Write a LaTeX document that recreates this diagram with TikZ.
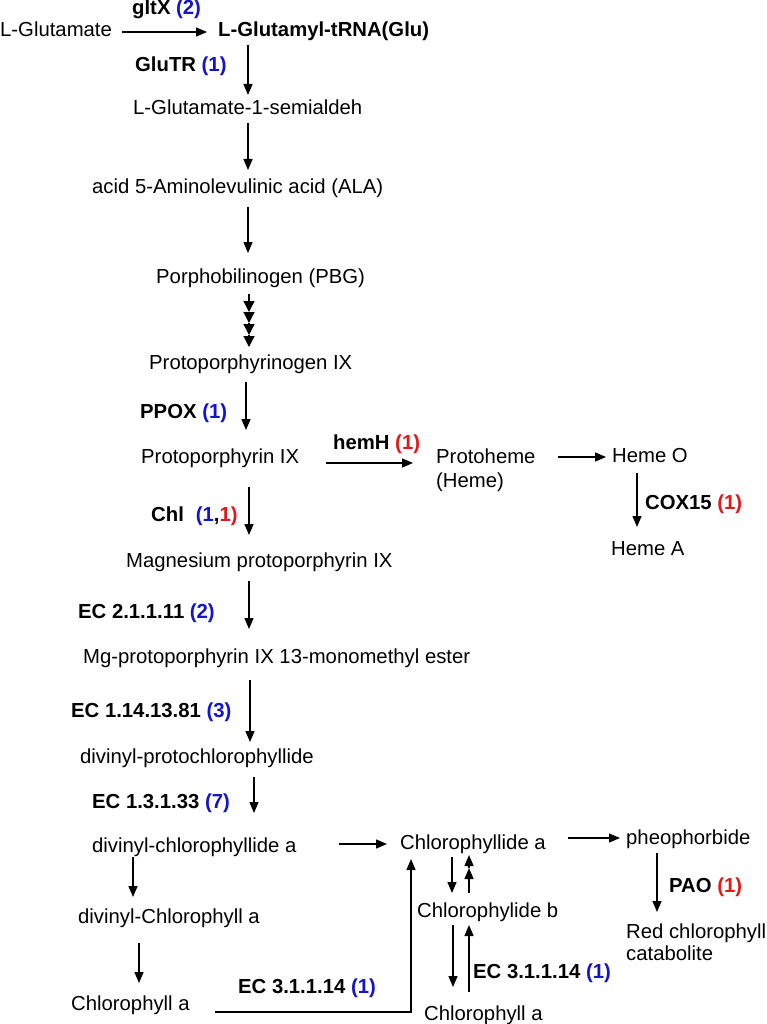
\documentclass[tikz,border=0pt]{standalone}
\usepackage{fontspec}
\setmainfont{Liberation Sans}
\usetikzlibrary{arrows.meta}
\definecolor{nblue}{RGB}{20,20,200}
\definecolor{nred}{RGB}{225,25,25}
\tikzset{
  txt/.style={anchor=base west, inner sep=0pt, font=\fontsize{20.3}{24}\selectfont},
  lbl/.style={anchor=base west, inner sep=0pt, font=\fontsize{20.3}{24}\selectfont\bfseries},
  arr/.style={line width=1.3pt, -{Triangle[length=11pt,width=9pt]}},
  marr/.style={line width=1.3pt, -{Triangle[length=11pt,width=11pt]}}
}
\newcommand{\bn}[1]{\textcolor{nblue}{#1}}
\newcommand{\rn}[1]{\textcolor{nred}{#1}}
\begin{document}
\begin{tikzpicture}[x=1pt,y=-1pt]
\useasboundingbox[fill=white] (0,0) rectangle (766,1024);
% texts
\node[txt] (glu) at (0,37) {L-Glutamate};
\node[lbl] (gltx) at (132,15) {gltX \bn{(2)}};
\node[lbl] (gtrna) at (218,37) {L-Glutamyl-tRNA(Glu)};
\node[lbl] (glutr) at (135,72) {GluTR \bn{(1)}};
\node[txt] (gsa) at (133,115) {L-Glutamate-1-semialdeh};
\node[txt] (ala) at (92,194) {acid 5-Aminolevulinic acid (ALA)};
\node[txt] (pbg) at (156,283) {Porphobilinogen (PBG)};
\node[txt] (pgen) at (149,369) {Protoporphyrinogen IX};
\node[lbl] (ppox) at (140,418) {PPOX \bn{(1)}};
\node[txt] (pp9) at (141,463) {Protoporphyrin IX};
\node[lbl] (hemh) at (333,449) {hemH \rn{(1)}};
\node[txt] (proto) at (436,463) {Protoheme};
\node[txt] (heme) at (436,487) {(Heme)};
\node[txt] (hemeo) at (612,462) {Heme O};
\node[lbl] (cox) at (645,509) {COX15 \rn{(1)}};
\node[txt] (hemea) at (611,555) {Heme A};
\node[lbl] (chl) at (151,521) {Chl\hspace{12pt}\bn{(1},\rn{1)}};
\node[txt] (mgp) at (126,567) {Magnesium protoporphyrin IX};
\node[lbl] (ec2) at (78,618) {EC 2.1.1.11 \bn{(2)}};
\node[txt] (mgme) at (83,663) {Mg-protoporphyrin IX 13-monomethyl ester};
\node[lbl] (ec1) at (71,717) {EC 1.14.13.81 \bn{(3)}};
\node[txt] (dvp) at (80,763) {divinyl-protochlorophyllide};
\node[lbl] (ec13) at (92,808) {EC 1.3.1.33 \bn{(7)}};
\node[txt] (dvc) at (92,852) {divinyl-chlorophyllide a};
\node[txt] (dvca) at (78,923) {divinyl-Chlorophyll a};
\node[txt] (chla) at (71,1010) {Chlorophyll a};
\node[lbl] (ec31a) at (238,993) {EC 3.1.1.14 \bn{(1)}};
\node[txt] (chlida) at (400,849) {Chlorophyllide a};
\node[txt] (pheo) at (626,844) {pheophorbide};
\node[lbl] (pao) at (669,892) {PAO \rn{(1)}};
\node[txt] (rcc) at (626,938) {Red chlorophyll};
\node[txt] (rcc2) at (626,960) {catabolite};
\node[txt] (chlidb) at (417,917) {Chlorophylide b};
\node[lbl] (ec31b) at (473,978) {EC 3.1.1.14 \bn{(1)}};
\node[txt] (chla2) at (424,1020) {Chlorophyll a};
% connector end points
\coordinate (a1s) at (122,32);  \coordinate (a1e) at (207,32);
\coordinate (a2s) at (248,45);  \coordinate (a2e) at (248,95);
\coordinate (a3s) at (248,123); \coordinate (a3e) at (248,170);
\coordinate (a4s) at (248,207); \coordinate (a4e) at (248,253);
\coordinate (m0) at (249,294); \coordinate (m1) at (249,312);
\coordinate (m2) at (249,323); \coordinate (m3) at (249,335);
\coordinate (m4) at (249,347);
\coordinate (a5s) at (246,382); \coordinate (a5e) at (246,430);
\coordinate (hs) at (326,463); \coordinate (he) at (413,463);
\coordinate (ps) at (558,457); \coordinate (pe) at (606,457);
\coordinate (cs) at (637,473); \coordinate (ce) at (637,527);
\coordinate (a6s) at (249,487); \coordinate (a6e) at (249,535);
\coordinate (a7s) at (249,581); \coordinate (a7e) at (249,629);
\coordinate (a8s) at (250,680); \coordinate (a8e) at (250,742);
\coordinate (a9s) at (254,777); \coordinate (a9e) at (254,813);
\coordinate (dcs) at (339,844); \coordinate (dce) at (387,844);
\coordinate (phs) at (568,838); \coordinate (phe) at (620,838);
\coordinate (pas) at (657,853); \coordinate (pae) at (657,912);
\coordinate (d1s) at (133,857); \coordinate (d1e) at (133,897);
\coordinate (d2s) at (139,943); \coordinate (d2e) at (139,983);
\coordinate (ls) at (215,1012); \coordinate (lc) at (411,1012); \coordinate (le) at (411,859);
\coordinate (b1s) at (452,857); \coordinate (b1e) at (452,893);
\coordinate (u0) at (469,893); \coordinate (u1) at (469,868); \coordinate (u2) at (469,855);
\coordinate (b2s) at (453,925); \coordinate (b2e) at (453,987);
\coordinate (u3s) at (469,992); \coordinate (u3e) at (469,925);
% connectors
\draw[arr] (a1s) -- (a1e);
\draw[arr] (a2s) -- (a2e);
\draw[arr] (a3s) -- (a3e);
\draw[arr] (a4s) -- (a4e);
\draw[marr] (m0) -- (m1);
\draw[marr] (m1) -- (m2);
\draw[marr] (m2) -- (m3);
\draw[marr] (m3) -- (m4);
\draw[arr] (a5s) -- (a5e);
\draw[arr] (hs) -- (he);
\draw[arr] (ps) -- (pe);
\draw[arr] (cs) -- (ce);
\draw[arr] (a6s) -- (a6e);
\draw[arr] (a7s) -- (a7e);
\draw[arr] (a8s) -- (a8e);
\draw[arr] (a9s) -- (a9e);
\draw[arr] (dcs) -- (dce);
\draw[arr] (phs) -- (phe);
\draw[arr] (pas) -- (pae);
\draw[arr] (d1s) -- (d1e);
\draw[arr] (d2s) -- (d2e);
\draw[arr] (ls) -- (lc) -- (le);
\draw[arr] (b1s) -- (b1e);
\draw[arr] (u0) -- (u1);
\draw[arr] (u1) -- (u2);
\draw[arr] (b2s) -- (b2e);
\draw[arr] (u3s) -- (u3e);
\end{tikzpicture}
\end{document}
